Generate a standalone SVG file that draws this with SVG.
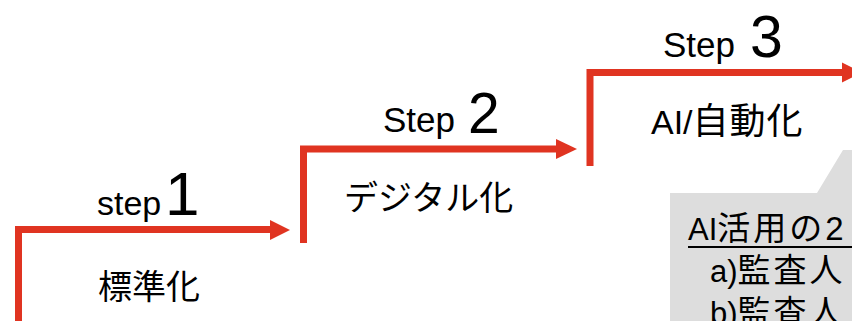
<svg xmlns="http://www.w3.org/2000/svg" width="852" height="321" viewBox="0 0 852 321">
<style>
.step{fill:none;stroke:#e03421;stroke-width:7;stroke-linejoin:miter;stroke-linecap:butt}
.head{fill:#e03421}
.t{font-family:"Liberation Sans","Noto Sans CJK JP",sans-serif;fill:#000}
.j{font-family:"Liberation Sans","Noto Sans CJK JP",sans-serif;fill:#000;font-size:34px}
.c{font-family:"Liberation Sans","Noto Sans CJK JP",sans-serif;fill:#000;font-size:31px}
.cj{font-size:33px;letter-spacing:3px}
</style>
<rect width="852" height="321" fill="#fff"/>
<g id="connectors">
<polyline class="step" points="18.5,325 18.5,229.5 272,229.5"/>
<polygon class="head" points="270,220 290,230 270,240"/>
<polyline class="step" points="303.5,243 303.5,149 557,149"/>
<polygon class="head" points="556,139 577,149 556,159"/>
<polyline class="step" points="590,166 590,72.5 844,72.5"/>
<polygon class="head" points="842,62.5 862,72.5 842,82.5"/>
</g>
<g id="step1">
<text class="t" x="97" y="215" font-size="34">step</text>
<text class="t" x="165" y="215" font-size="62">1</text>
<text class="j" x="98" y="299" font-size="36">標準化</text>
</g>
<g id="step2">
<text class="t" x="383" y="132" font-size="35">Step</text>
<text class="t" x="468" y="133" font-size="57">2</text>
<text class="j" x="344" y="210">デジタル化</text>
</g>
<g id="step3">
<text class="t" x="663" y="57" font-size="35">Step</text>
<text class="t" x="750" y="57" font-size="59">3</text>
<text class="j" x="651" y="134" font-size="35">AI/<tspan font-size="36" letter-spacing="1">自動化</tspan></text>
</g>
<g id="callout">
<polygon fill="#dddddd" points="670,193 817,193 843,150 852,150 852,321 670,321"/>
<text class="c" x="688" y="240">AI<tspan class="cj" letter-spacing="2">活用の2</tspan></text>
<rect x="688" y="246" width="170" height="2" fill="#000"/>
<text class="c" x="710" y="282">a)<tspan class="cj">監査人</tspan></text>
<text class="c" x="710" y="324">b)<tspan class="cj">監査人</tspan></text>
</g>
</svg>
